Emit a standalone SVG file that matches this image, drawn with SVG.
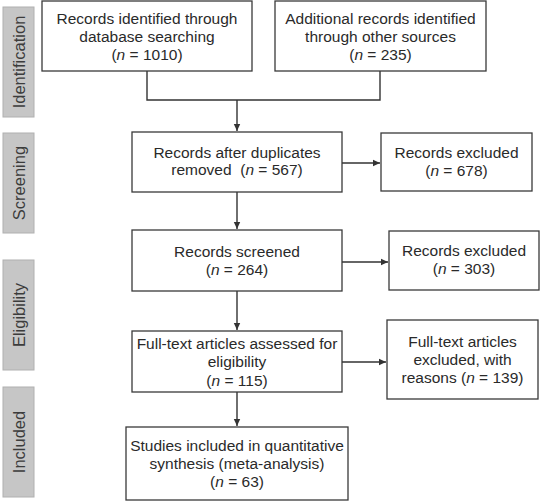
<svg xmlns="http://www.w3.org/2000/svg" width="540" height="502" viewBox="0 0 540 502">
<style>
.box{fill:#fff;stroke:#3a3a3a;stroke-width:1.3}
.t{font-family:"Liberation Sans",Arial,sans-serif;font-size:15.5px;fill:#2a2a2a;text-anchor:middle}
.side rect{fill:#c6c6c6;stroke:#b0b0b0;stroke-width:1}
.side text{font-family:"Liberation Sans",Arial,sans-serif;font-size:16.5px;fill:#3c3c3c;text-anchor:middle}
.c{fill:none;stroke:#333;stroke-width:1.4}
</style>
<defs>
<marker id="ah" markerWidth="8" markerHeight="8" refX="7" refY="4" orient="auto" markerUnits="userSpaceOnUse">
<path d="M0,0.8 L7,4 L0,7.2 Z" fill="#333"/>
</marker>
</defs>
<rect width="540" height="502" fill="#fff"/>
<g id="phase-identification" class="side"><rect x="3" y="7" width="31" height="110"/><text transform="translate(24.5,62) rotate(-90)">Identification</text></g>
<g id="phase-screening" class="side"><rect x="3" y="133" width="31" height="100"/><text transform="translate(24.5,183) rotate(-90)">Screening</text></g>
<g id="phase-eligibility" class="side"><rect x="3" y="260" width="31" height="110"/><text transform="translate(24.5,315) rotate(-90)">Eligibility</text></g>
<g id="phase-included" class="side"><rect x="3" y="387" width="31" height="110"/><text transform="translate(24.5,442) rotate(-90)">Included</text></g>

<g id="connectors">
<path class="c" d="M147,71 V100 H380 V71"/>
<path class="c" d="M237,100 V131" marker-end="url(#ah)"/>
<path class="c" d="M237,192 V229" marker-end="url(#ah)"/>
<path class="c" d="M237,291 V330" stroke-width="1.8" marker-end="url(#ah)"/>
<path class="c" d="M237,392 V426" stroke-width="1.8" marker-end="url(#ah)"/>
<path class="c" d="M342,163 H380" marker-end="url(#ah)"/>
<path class="c" d="M342,262 H388" marker-end="url(#ah)"/>
<path class="c" d="M342,362 H386" marker-end="url(#ah)"/>
</g>

<g id="n1"><rect class="box" x="42" y="1" width="210" height="70"/>
<text class="t" x="147" y="23.5">Records identified through</text>
<text class="t" x="147" y="41.5">database searching</text>
<text class="t" x="147" y="59.5">(<tspan font-style="italic">n</tspan> = 1010)</text></g>

<g id="n2"><rect class="box" x="275" y="1" width="211" height="70"/>
<text class="t" x="380.5" y="23.5">Additional records identified</text>
<text class="t" x="380.5" y="41.5">through other sources</text>
<text class="t" x="380.5" y="59.5">(<tspan font-style="italic">n</tspan> = 235)</text></g>

<g id="n3"><rect class="box" x="132" y="132" width="210" height="60"/>
<text class="t" x="237" y="158">Records after duplicates</text>
<text class="t" x="237" y="175">removed&#160; (<tspan font-style="italic">n</tspan> = 567)</text></g>

<g id="n4"><rect class="box" x="381" y="133" width="151" height="58"/>
<text class="t" x="456.5" y="157.5">Records excluded</text>
<text class="t" x="456.5" y="175.5">(<tspan font-style="italic">n</tspan> = 678)</text></g>

<g id="n5"><rect class="box" x="132" y="230" width="210" height="61"/>
<text class="t" x="237" y="257">Records screened</text>
<text class="t" x="237" y="275">(<tspan font-style="italic">n</tspan> = 264)</text></g>

<g id="n6"><rect class="box" x="389" y="231" width="150" height="59"/>
<text class="t" x="464" y="256">Records excluded</text>
<text class="t" x="464" y="274">(<tspan font-style="italic">n</tspan> = 303)</text></g>

<g id="n7"><rect class="box" x="132" y="331" width="210" height="61"/>
<text class="t" x="237" y="348.5">Full-text articles assessed for</text>
<text class="t" x="237" y="367">eligibility</text>
<text class="t" x="237" y="386">(<tspan font-style="italic">n</tspan> = 115)</text></g>

<g id="n8"><rect class="box" x="387" y="320" width="151" height="79"/>
<text class="t" x="462.5" y="346.5">Full-text articles</text>
<text class="t" x="462.5" y="364.5">excluded, with</text>
<text class="t" x="462.5" y="383">reasons (<tspan font-style="italic">n</tspan> = 139)</text></g>

<g id="n9"><rect class="box" x="126" y="427" width="222" height="73"/>
<text class="t" x="237" y="451">Studies included in quantitative</text>
<text class="t" x="237" y="469">synthesis (meta-analysis)</text>
<text class="t" x="237" y="487">(<tspan font-style="italic">n</tspan> = 63)</text></g>
</svg>
